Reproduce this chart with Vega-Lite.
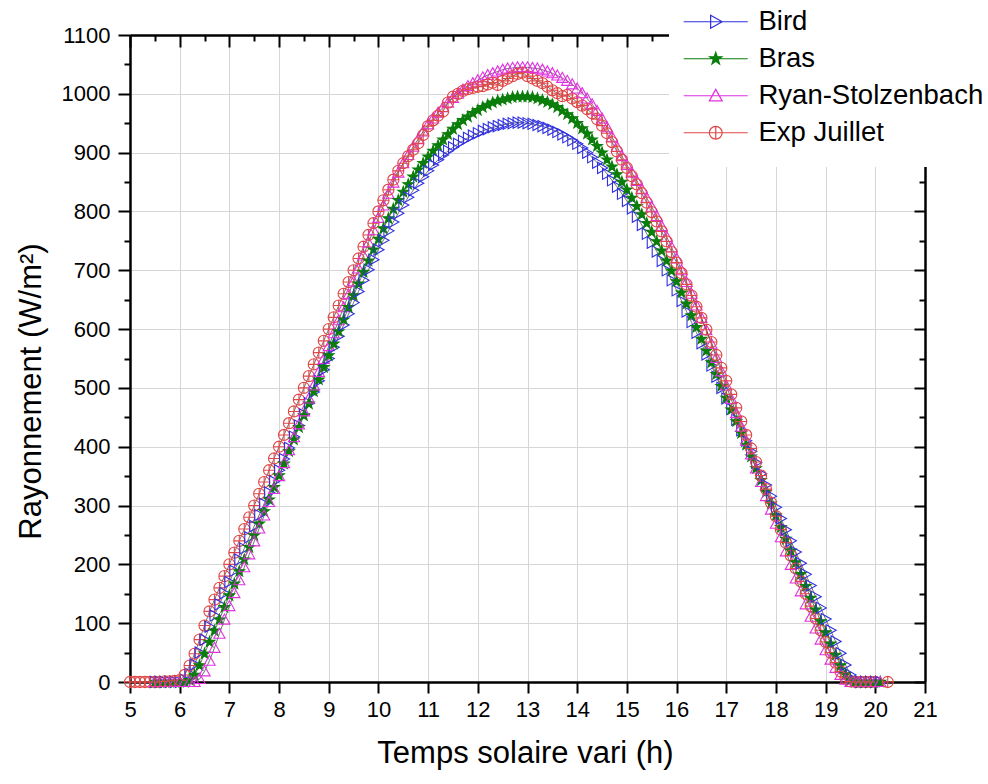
{
"$schema": "https://vega.github.io/schema/vega-lite/v6.json",
"width": 795, "height": 647,
"autosize": "none",
"padding": {"left": 130, "top": 35, "right": 63, "bottom": 102},
"background": "white",
"data": {"values": [
{"t":5.0,"Exp Juillet":0},
{"t":5.1,"Exp Juillet":0},
{"t":5.2,"Exp Juillet":0},
{"t":5.3,"Exp Juillet":0},
{"t":5.4,"Exp Juillet":0},
{"t":5.5,"Bird":0,"Bras":0,"Ryan-Stolzenbach":0,"Exp Juillet":0},
{"t":5.6,"Bird":0,"Bras":0,"Ryan-Stolzenbach":0,"Exp Juillet":0},
{"t":5.7,"Bird":0,"Bras":0,"Ryan-Stolzenbach":0,"Exp Juillet":1},
{"t":5.8,"Bird":0,"Bras":0,"Ryan-Stolzenbach":0,"Exp Juillet":1},
{"t":5.9,"Bird":0,"Bras":0,"Ryan-Stolzenbach":0,"Exp Juillet":2},
{"t":6.0,"Bird":0,"Bras":0,"Ryan-Stolzenbach":0,"Exp Juillet":3},
{"t":6.1,"Bird":4,"Bras":0,"Ryan-Stolzenbach":0,"Exp Juillet":12},
{"t":6.2,"Bird":14,"Bras":3,"Ryan-Stolzenbach":0,"Exp Juillet":28},
{"t":6.3,"Bird":30,"Bras":12,"Ryan-Stolzenbach":0,"Exp Juillet":48},
{"t":6.4,"Bird":50,"Bras":28,"Ryan-Stolzenbach":5,"Exp Juillet":72},
{"t":6.5,"Bird":72,"Bras":48,"Ryan-Stolzenbach":18,"Exp Juillet":96},
{"t":6.6,"Bird":94,"Bras":68,"Ryan-Stolzenbach":36,"Exp Juillet":120},
{"t":6.7,"Bird":113,"Bras":87,"Ryan-Stolzenbach":58,"Exp Juillet":140},
{"t":6.8,"Bird":132,"Bras":106,"Ryan-Stolzenbach":82,"Exp Juillet":160},
{"t":6.9,"Bird":151,"Bras":127,"Ryan-Stolzenbach":106,"Exp Juillet":180},
{"t":7.0,"Bird":170,"Bras":147,"Ryan-Stolzenbach":129,"Exp Juillet":200},
{"t":7.1,"Bird":189,"Bras":167,"Ryan-Stolzenbach":151,"Exp Juillet":220},
{"t":7.2,"Bird":208,"Bras":188,"Ryan-Stolzenbach":173,"Exp Juillet":240},
{"t":7.3,"Bird":227,"Bras":208,"Ryan-Stolzenbach":195,"Exp Juillet":260},
{"t":7.4,"Bird":246,"Bras":229,"Ryan-Stolzenbach":217,"Exp Juillet":280},
{"t":7.5,"Bird":265,"Bras":249,"Ryan-Stolzenbach":239,"Exp Juillet":300},
{"t":7.6,"Bird":284,"Bras":269,"Ryan-Stolzenbach":261,"Exp Juillet":320},
{"t":7.7,"Bird":303,"Bras":290,"Ryan-Stolzenbach":283,"Exp Juillet":340},
{"t":7.8,"Bird":322,"Bras":310,"Ryan-Stolzenbach":306,"Exp Juillet":360},
{"t":7.9,"Bird":341,"Bras":331,"Ryan-Stolzenbach":328,"Exp Juillet":380},
{"t":8.0,"Bird":360,"Bras":351,"Ryan-Stolzenbach":350,"Exp Juillet":400},
{"t":8.1,"Bird":379,"Bras":371,"Ryan-Stolzenbach":372,"Exp Juillet":420},
{"t":8.2,"Bird":398,"Bras":392,"Ryan-Stolzenbach":394,"Exp Juillet":440},
{"t":8.3,"Bird":417,"Bras":412,"Ryan-Stolzenbach":416,"Exp Juillet":460},
{"t":8.4,"Bird":436,"Bras":433,"Ryan-Stolzenbach":438,"Exp Juillet":480},
{"t":8.5,"Bird":455,"Bras":453,"Ryan-Stolzenbach":460,"Exp Juillet":500},
{"t":8.6,"Bird":474,"Bras":473,"Ryan-Stolzenbach":482,"Exp Juillet":520},
{"t":8.7,"Bird":493,"Bras":494,"Ryan-Stolzenbach":504,"Exp Juillet":540},
{"t":8.8,"Bird":512,"Bras":514,"Ryan-Stolzenbach":527,"Exp Juillet":560},
{"t":8.9,"Bird":531,"Bras":535,"Ryan-Stolzenbach":549,"Exp Juillet":580},
{"t":9.0,"Bird":550,"Bras":555,"Ryan-Stolzenbach":571,"Exp Juillet":600},
{"t":9.1,"Bird":569,"Bras":575,"Ryan-Stolzenbach":593,"Exp Juillet":620},
{"t":9.2,"Bird":588,"Bras":596,"Ryan-Stolzenbach":615,"Exp Juillet":640},
{"t":9.3,"Bird":607,"Bras":616,"Ryan-Stolzenbach":637,"Exp Juillet":660},
{"t":9.4,"Bird":626,"Bras":637,"Ryan-Stolzenbach":659,"Exp Juillet":680},
{"t":9.5,"Bird":645,"Bras":657,"Ryan-Stolzenbach":681,"Exp Juillet":700},
{"t":9.6,"Bird":664,"Bras":677,"Ryan-Stolzenbach":703,"Exp Juillet":720},
{"t":9.7,"Bird":683,"Bras":697,"Ryan-Stolzenbach":725,"Exp Juillet":740},
{"t":9.8,"Bird":701,"Bras":716,"Ryan-Stolzenbach":747,"Exp Juillet":760},
{"t":9.9,"Bird":718,"Bras":735,"Ryan-Stolzenbach":768,"Exp Juillet":780},
{"t":10.0,"Bird":735,"Bras":753,"Ryan-Stolzenbach":789,"Exp Juillet":800},
{"t":10.1,"Bird":751,"Bras":771,"Ryan-Stolzenbach":810,"Exp Juillet":819},
{"t":10.2,"Bird":767,"Bras":788,"Ryan-Stolzenbach":830,"Exp Juillet":837},
{"t":10.3,"Bird":782,"Bras":804,"Ryan-Stolzenbach":849,"Exp Juillet":854},
{"t":10.4,"Bird":797,"Bras":819,"Ryan-Stolzenbach":866,"Exp Juillet":869},
{"t":10.5,"Bird":811,"Bras":833,"Ryan-Stolzenbach":882,"Exp Juillet":882},
{"t":10.6,"Bird":824,"Bras":846,"Ryan-Stolzenbach":896,"Exp Juillet":894},
{"t":10.7,"Bird":836,"Bras":859,"Ryan-Stolzenbach":910,"Exp Juillet":905},
{"t":10.8,"Bird":848,"Bras":871,"Ryan-Stolzenbach":923,"Exp Juillet":916},
{"t":10.9,"Bird":859,"Bras":882,"Ryan-Stolzenbach":936,"Exp Juillet":930},
{"t":11.0,"Bird":869,"Bras":893,"Ryan-Stolzenbach":948,"Exp Juillet":945},
{"t":11.1,"Bird":879,"Bras":903,"Ryan-Stolzenbach":958,"Exp Juillet":955},
{"t":11.2,"Bird":888,"Bras":912,"Ryan-Stolzenbach":968,"Exp Juillet":963},
{"t":11.3,"Bird":896,"Bras":922,"Ryan-Stolzenbach":977,"Exp Juillet":970},
{"t":11.4,"Bird":903,"Bras":931,"Ryan-Stolzenbach":985,"Exp Juillet":985},
{"t":11.5,"Bird":909,"Bras":940,"Ryan-Stolzenbach":993,"Exp Juillet":995},
{"t":11.6,"Bird":915,"Bras":948,"Ryan-Stolzenbach":1000,"Exp Juillet":1000},
{"t":11.7,"Bird":920,"Bras":955,"Ryan-Stolzenbach":1007,"Exp Juillet":1005},
{"t":11.8,"Bird":925,"Bras":961,"Ryan-Stolzenbach":1013,"Exp Juillet":1008},
{"t":11.9,"Bird":929,"Bras":967,"Ryan-Stolzenbach":1018,"Exp Juillet":1010},
{"t":12.0,"Bird":933,"Bras":972,"Ryan-Stolzenbach":1023,"Exp Juillet":1012},
{"t":12.1,"Bird":937,"Bras":977,"Ryan-Stolzenbach":1028,"Exp Juillet":1013},
{"t":12.2,"Bird":940,"Bras":981,"Ryan-Stolzenbach":1032,"Exp Juillet":1016},
{"t":12.3,"Bird":943,"Bras":985,"Ryan-Stolzenbach":1035,"Exp Juillet":1019},
{"t":12.4,"Bird":945,"Bras":988,"Ryan-Stolzenbach":1038,"Exp Juillet":1015},
{"t":12.5,"Bird":947,"Bras":990,"Ryan-Stolzenbach":1041,"Exp Juillet":1022},
{"t":12.6,"Bird":949,"Bras":992,"Ryan-Stolzenbach":1043,"Exp Juillet":1026},
{"t":12.7,"Bird":950,"Bras":994,"Ryan-Stolzenbach":1044,"Exp Juillet":1030},
{"t":12.8,"Bird":951,"Bras":995,"Ryan-Stolzenbach":1045,"Exp Juillet":1034},
{"t":12.9,"Bird":951,"Bras":995,"Ryan-Stolzenbach":1045,"Exp Juillet":1036},
{"t":13.0,"Bird":950,"Bras":995,"Ryan-Stolzenbach":1045,"Exp Juillet":1030},
{"t":13.1,"Bird":949,"Bras":994,"Ryan-Stolzenbach":1044,"Exp Juillet":1026},
{"t":13.2,"Bird":947,"Bras":992,"Ryan-Stolzenbach":1043,"Exp Juillet":1022},
{"t":13.3,"Bird":945,"Bras":989,"Ryan-Stolzenbach":1041,"Exp Juillet":1018},
{"t":13.4,"Bird":942,"Bras":986,"Ryan-Stolzenbach":1038,"Exp Juillet":1012},
{"t":13.5,"Bird":939,"Bras":982,"Ryan-Stolzenbach":1035,"Exp Juillet":1006},
{"t":13.6,"Bird":935,"Bras":977,"Ryan-Stolzenbach":1031,"Exp Juillet":1001},
{"t":13.7,"Bird":931,"Bras":971,"Ryan-Stolzenbach":1027,"Exp Juillet":996},
{"t":13.8,"Bird":926,"Bras":965,"Ryan-Stolzenbach":1022,"Exp Juillet":998},
{"t":13.9,"Bird":921,"Bras":958,"Ryan-Stolzenbach":1016,"Exp Juillet":992},
{"t":14.0,"Bird":915,"Bras":950,"Ryan-Stolzenbach":1009,"Exp Juillet":986},
{"t":14.1,"Bird":908,"Bras":941,"Ryan-Stolzenbach":1001,"Exp Juillet":980},
{"t":14.2,"Bird":900,"Bras":932,"Ryan-Stolzenbach":992,"Exp Juillet":974},
{"t":14.3,"Bird":892,"Bras":922,"Ryan-Stolzenbach":982,"Exp Juillet":967},
{"t":14.4,"Bird":883,"Bras":911,"Ryan-Stolzenbach":971,"Exp Juillet":957},
{"t":14.5,"Bird":874,"Bras":900,"Ryan-Stolzenbach":958,"Exp Juillet":946},
{"t":14.6,"Bird":864,"Bras":888,"Ryan-Stolzenbach":943,"Exp Juillet":933},
{"t":14.7,"Bird":853,"Bras":876,"Ryan-Stolzenbach":927,"Exp Juillet":918},
{"t":14.8,"Bird":842,"Bras":863,"Ryan-Stolzenbach":910,"Exp Juillet":902},
{"t":14.9,"Bird":830,"Bras":850,"Ryan-Stolzenbach":894,"Exp Juillet":888},
{"t":15.0,"Bird":818,"Bras":837,"Ryan-Stolzenbach":879,"Exp Juillet":874},
{"t":15.1,"Bird":805,"Bras":823,"Ryan-Stolzenbach":866,"Exp Juillet":860},
{"t":15.2,"Bird":791,"Bras":809,"Ryan-Stolzenbach":852,"Exp Juillet":846},
{"t":15.3,"Bird":777,"Bras":795,"Ryan-Stolzenbach":838,"Exp Juillet":831},
{"t":15.4,"Bird":762,"Bras":780,"Ryan-Stolzenbach":823,"Exp Juillet":815},
{"t":15.5,"Bird":747,"Bras":765,"Ryan-Stolzenbach":808,"Exp Juillet":799},
{"t":15.6,"Bird":732,"Bras":749,"Ryan-Stolzenbach":792,"Exp Juillet":783},
{"t":15.7,"Bird":716,"Bras":733,"Ryan-Stolzenbach":775,"Exp Juillet":766},
{"t":15.8,"Bird":700,"Bras":716,"Ryan-Stolzenbach":757,"Exp Juillet":749},
{"t":15.9,"Bird":683,"Bras":699,"Ryan-Stolzenbach":739,"Exp Juillet":731},
{"t":16.0,"Bird":666,"Bras":681,"Ryan-Stolzenbach":720,"Exp Juillet":713},
{"t":16.1,"Bird":648,"Bras":662,"Ryan-Stolzenbach":700,"Exp Juillet":695},
{"t":16.2,"Bird":630,"Bras":643,"Ryan-Stolzenbach":680,"Exp Juillet":676},
{"t":16.3,"Bird":612,"Bras":623,"Ryan-Stolzenbach":660,"Exp Juillet":657},
{"t":16.4,"Bird":594,"Bras":603,"Ryan-Stolzenbach":640,"Exp Juillet":638},
{"t":16.5,"Bird":576,"Bras":583,"Ryan-Stolzenbach":619,"Exp Juillet":619},
{"t":16.6,"Bird":557,"Bras":563,"Ryan-Stolzenbach":598,"Exp Juillet":599},
{"t":16.7,"Bird":538,"Bras":543,"Ryan-Stolzenbach":575,"Exp Juillet":578},
{"t":16.8,"Bird":519,"Bras":523,"Ryan-Stolzenbach":551,"Exp Juillet":556},
{"t":16.9,"Bird":500,"Bras":503,"Ryan-Stolzenbach":528,"Exp Juillet":534},
{"t":17.0,"Bird":482,"Bras":483,"Ryan-Stolzenbach":504,"Exp Juillet":512},
{"t":17.1,"Bird":464,"Bras":463,"Ryan-Stolzenbach":481,"Exp Juillet":489},
{"t":17.2,"Bird":446,"Bras":443,"Ryan-Stolzenbach":457,"Exp Juillet":466},
{"t":17.3,"Bird":428,"Bras":423,"Ryan-Stolzenbach":434,"Exp Juillet":443},
{"t":17.4,"Bird":410,"Bras":403,"Ryan-Stolzenbach":410,"Exp Juillet":420},
{"t":17.5,"Bird":392,"Bras":383,"Ryan-Stolzenbach":387,"Exp Juillet":397},
{"t":17.6,"Bird":373,"Bras":363,"Ryan-Stolzenbach":363,"Exp Juillet":374},
{"t":17.7,"Bird":354,"Bras":343,"Ryan-Stolzenbach":340,"Exp Juillet":351},
{"t":17.8,"Bird":335,"Bras":323,"Ryan-Stolzenbach":316,"Exp Juillet":328},
{"t":17.9,"Bird":316,"Bras":303,"Ryan-Stolzenbach":293,"Exp Juillet":305},
{"t":18.0,"Bird":297,"Bras":283,"Ryan-Stolzenbach":269,"Exp Juillet":282},
{"t":18.1,"Bird":278,"Bras":263,"Ryan-Stolzenbach":246,"Exp Juillet":259},
{"t":18.2,"Bird":259,"Bras":243,"Ryan-Stolzenbach":222,"Exp Juillet":237},
{"t":18.3,"Bird":240,"Bras":223,"Ryan-Stolzenbach":199,"Exp Juillet":215},
{"t":18.4,"Bird":221,"Bras":203,"Ryan-Stolzenbach":176,"Exp Juillet":193},
{"t":18.5,"Bird":202,"Bras":183,"Ryan-Stolzenbach":154,"Exp Juillet":171},
{"t":18.6,"Bird":183,"Bras":163,"Ryan-Stolzenbach":132,"Exp Juillet":150},
{"t":18.7,"Bird":164,"Bras":143,"Ryan-Stolzenbach":111,"Exp Juillet":129},
{"t":18.8,"Bird":145,"Bras":123,"Ryan-Stolzenbach":91,"Exp Juillet":108},
{"t":18.9,"Bird":126,"Bras":103,"Ryan-Stolzenbach":72,"Exp Juillet":88},
{"t":19.0,"Bird":107,"Bras":84,"Ryan-Stolzenbach":54,"Exp Juillet":68},
{"t":19.1,"Bird":88,"Bras":65,"Ryan-Stolzenbach":38,"Exp Juillet":50},
{"t":19.2,"Bird":69,"Bras":46,"Ryan-Stolzenbach":24,"Exp Juillet":33},
{"t":19.3,"Bird":49,"Bras":28,"Ryan-Stolzenbach":12,"Exp Juillet":18},
{"t":19.4,"Bird":29,"Bras":13,"Ryan-Stolzenbach":4,"Exp Juillet":7},
{"t":19.5,"Bird":12,"Bras":4,"Ryan-Stolzenbach":0,"Exp Juillet":1},
{"t":19.6,"Bird":2,"Bras":0,"Ryan-Stolzenbach":0,"Exp Juillet":0},
{"t":19.7,"Bird":0,"Bras":0,"Ryan-Stolzenbach":0,"Exp Juillet":0},
{"t":19.8,"Bird":0,"Bras":0,"Ryan-Stolzenbach":0,"Exp Juillet":0},
{"t":19.9,"Bird":0,"Bras":0,"Ryan-Stolzenbach":0,"Exp Juillet":0},
{"t":20.0,"Bird":0,"Bras":0,"Ryan-Stolzenbach":0,"Exp Juillet":0},
{"t":20.1,"Bird":0,"Bras":0,"Ryan-Stolzenbach":0},
{"t":20.25,"Exp Juillet":0}
]},
"transform": [
  {"fold": ["Bird", "Bras", "Ryan-Stolzenbach", "Exp Juillet"], "as": ["series", "v"]},
  {"filter": "isValid(datum.v)"}
],
"layer": [
  {
    "mark": {"type": "line", "color": "#333333", "strokeWidth": 0.7},
    "encoding": {
      "x": {"field": "t", "type": "quantitative",
        "scale": {"domain": [5, 21], "nice": false, "zero": false},
        "axis": {"orient": "bottom", "values": [5,5.5,6,6.5,7,7.5,8,8.5,9,9.5,10,10.5,11,11.5,12,12.5,13,13.5,14,14.5,15,15.5,16,16.5,17,17.5,18,18.5,19,19.5,20,20.5,21],
          "format": "d",
          "labelExpr": "datum.value % 1 === 0 ? datum.label : ''",
          "tickSize": {"condition": {"test": "datum.value % 1 === 0", "value": 11}, "value": 6},
          "tickWidth": 2, "tickColor": "black",
          "domainColor": "black", "domainWidth": 2.5,
          "grid": true, "gridColor": "#d6d6d6", "gridWidth": 1,
          "gridOpacity": {"condition": {"test": "datum.value % 1 === 0", "value": 1}, "value": 0},
          "labelFont": "Liberation Sans", "labelFontSize": 22, "labelColor": "black", "labelPadding": 6,
          "labelFlush": false, "labelOverlap": false,
          "title": "Temps solaire vari (h)", "titleFont": "Liberation Sans", "titleFontSize": 31,
          "titleFontWeight": "normal", "titleColor": "black",
          "titleX": 395, "titleY": 80, "titleBaseline": "alphabetic", "titleAlign": "center"}},
      "y": {"field": "v", "type": "quantitative",
        "scale": {"domain": [0, 1100], "nice": false},
        "axis": {"orient": "left", "values": [0,50,100,150,200,250,300,350,400,450,500,550,600,650,700,750,800,850,900,950,1000,1050,1100],
          "format": "d",
          "labelExpr": "datum.value % 100 === 0 ? datum.label : ''",
          "tickSize": {"condition": {"test": "datum.value % 100 === 0", "value": 12}, "value": 6},
          "tickWidth": 2, "tickColor": "black",
          "domainColor": "black", "domainWidth": 2.5,
          "grid": true, "gridColor": "#d6d6d6", "gridWidth": 1,
          "gridOpacity": {"condition": {"test": "datum.value % 100 === 0", "value": 1}, "value": 0},
          "labelFont": "Liberation Sans", "labelFontSize": 22, "labelColor": "black", "labelPadding": 8,
          "labelFlush": false, "labelOverlap": false,
          "title": "Rayonnement (W/m²)", "titleFont": "Liberation Sans", "titleFontSize": 31,
          "titleFontWeight": "normal", "titleColor": "black", "titleAngle": -90,
          "titleX": -90, "titleY": 356, "titleBaseline": "alphabetic", "titleAlign": "center"}},
      "detail": {"field": "series", "type": "nominal"}
    }
  },
  {
    "mark": {"type": "point", "filled": false, "size": 125, "strokeWidth": 1.1, "opacity": 1},
    "encoding": {
      "x": {"field": "t", "type": "quantitative",
        "axis": {"orient": "top", "values": [5,5.5,6,6.5,7,7.5,8,8.5,9,9.5,10,10.5,11,11.5,12,12.5,13,13.5,14,14.5,15,15.5,16,16.5,17,17.5,18,18.5,19,19.5,20,20.5,21],
          "labels": false, "title": null, "grid": false,
          "tickSize": {"condition": {"test": "datum.value % 1 === 0", "value": -12}, "value": -6},
          "tickWidth": 2, "tickColor": "black", "domainColor": "black", "domainWidth": 2.5}},
      "y": {"field": "v", "type": "quantitative",
        "axis": {"orient": "right", "values": [0,50,100,150,200,250,300,350,400,450,500,550,600,650,700,750,800,850,900,950,1000,1050,1100],
          "labels": false, "title": null, "grid": false,
          "tickSize": {"condition": {"test": "datum.value % 100 === 0", "value": -11}, "value": -6},
          "tickWidth": 2, "tickColor": "black", "domainColor": "black", "domainWidth": 2.5}},
      "stroke": {"field": "series", "type": "nominal",
        "scale": {"domain": ["Bird", "Bras", "Ryan-Stolzenbach", "Exp Juillet"],
                  "range": ["#3030e0", "#0a7d0a", "#e030e0", "#e04848"]},
        "legend": {"orient": "none", "legendX": 539, "legendY": -47, "title": null,
          "fillColor": "white", "padding": 20, "symbolOffset": 13,
          "labelFont": "Liberation Sans", "labelFontSize": 27.5, "labelColor": "black",
          "labelOffset": 29, "labelLimit": 500, "symbolSize": 164, "symbolStrokeWidth": 1.2,
          "rowPadding": 8,
          "symbolType": {"expr": "datum.value === 'Bird' ? 'M-5,0L5,0M-0.8,-1L1,0L-0.8,1Z' : datum.value === 'Bras' ? 'M-5,0L5,0M0,-1L0.235,-0.324L0.951,-0.309L0.38,0.124L0.588,0.809L0,0.4L-0.588,0.809L-0.38,0.124L-0.951,-0.309L-0.235,-0.324Z' : datum.value === 'Ryan-Stolzenbach' ? 'M-5,0L5,0M0,-1L1,0.8L-1,0.8Z' : 'M-5,0L5,0M-1,0A1,1,0,1,1,1,0A1,1,0,1,1,-1,0M0,-1L0,1'"},
          "symbolFillColor": {"expr": "datum.value === 'Bras' ? '#0a7d0a' : 'transparent'"}
        }},
      "fill": {"field": "series", "type": "nominal",
        "scale": {"domain": ["Bras", "Bird", "Ryan-Stolzenbach", "Exp Juillet"],
                  "range": ["#0a7d0a", "transparent", "transparent", "transparent"]},
        "legend": null},
      "shape": {"field": "series", "type": "nominal",
        "scale": {"domain": ["Exp Juillet", "Bird", "Bras", "Ryan-Stolzenbach"],
                  "range": ["M-1,0A1,1,0,1,1,1,0A1,1,0,1,1,-1,0ZM-1,0L1,0M0,-1L0,1",
                            "M-0.8,-1L1,0L-0.8,1Z",
                            "M0,-1L0.235,-0.324L0.951,-0.309L0.38,0.124L0.588,0.809L0,0.4L-0.588,0.809L-0.38,0.124L-0.951,-0.309L-0.235,-0.324Z",
                            "M0,-1L1,0.8L-1,0.8Z"]},
        "legend": null}
    }
  }
],
"resolve": {"axis": {"x": "independent", "y": "independent"}},
"config": {"view": {"stroke": null}, "font": "Liberation Sans"}
}
